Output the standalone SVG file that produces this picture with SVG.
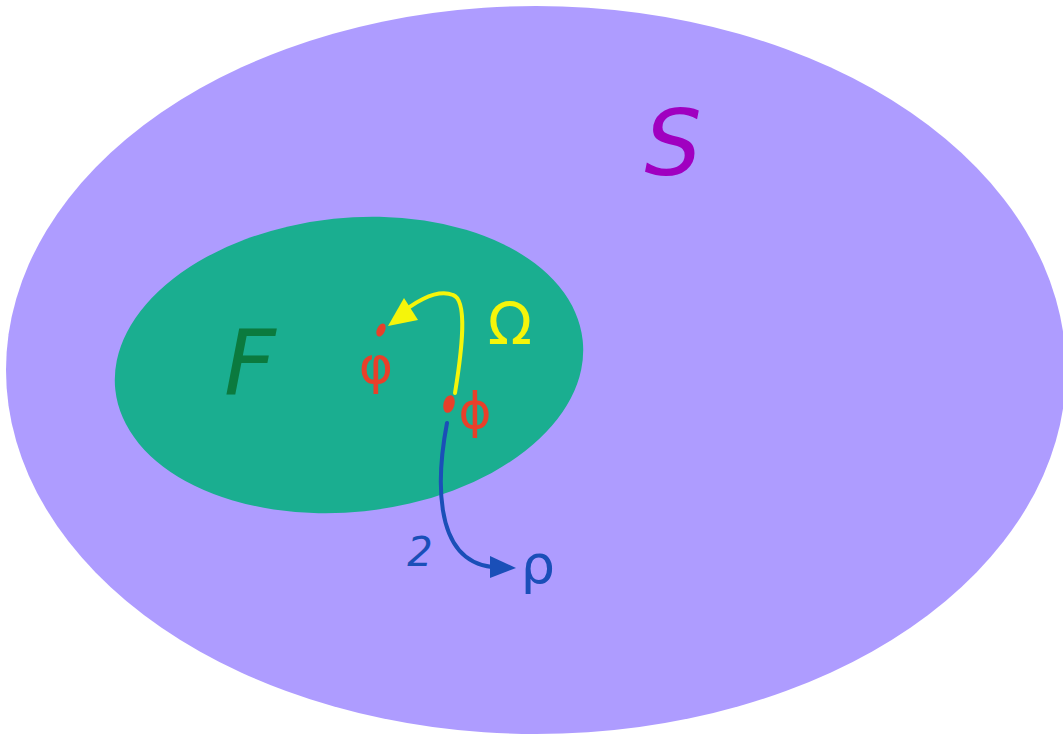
<svg xmlns="http://www.w3.org/2000/svg" width="1063" height="736" viewBox="0 0 1063 736">
<style>
.lbl{font-family:"DejaVu Sans","Liberation Sans",sans-serif;text-anchor:middle}
.conn{fill:none;stroke-width:4;stroke-linecap:round}
</style>
<rect width="1063" height="736" fill="#ffffff"/>
<g id="S">
<ellipse cx="536" cy="370" rx="530" ry="364" fill="#ae9cff"/>
<text class="lbl" x="673" y="175" font-size="90" fill="#a000c0" font-style="italic">S</text>
</g>
<g id="F">
<ellipse cx="349" cy="365" rx="235" ry="147" transform="rotate(-6 349 365)" fill="#1aae90"/>
<text class="lbl" x="250" y="395" font-size="90" fill="#0b7a3e" font-style="italic">F</text>
</g>
<g id="phi1">
<ellipse cx="381" cy="330" rx="4" ry="7" transform="rotate(25 381 330)" fill="#e8402a"/>
<text class="lbl" x="376" y="383" font-size="52" fill="#e8402a">φ</text>
</g>
<g id="phi2">
<ellipse cx="449" cy="404" rx="5.5" ry="9" transform="rotate(15 449 404)" fill="#e8402a"/>
<text class="lbl" x="475" y="428" font-size="50" fill="#e8402a">ϕ</text>
</g>
<g id="rho">
<text class="lbl" x="538" y="583" font-size="54" fill="#1a4fb8">ρ</text>
</g>
<g id="connectors">
<path class="conn" d="M455,393 C462,350 468,300 453,295 C435,288 410,305 396,318" stroke="#f5f50a"/>
<path d="M404,298 L388,326 L418,320 z" fill="#f5f50a"/>
<text class="lbl" x="510" y="344" font-size="58" fill="#f5f50a">Ω</text>
<path class="conn" d="M447,423 C438,470 430,560 492,567" stroke="#1a4fb8" stroke-width="3.5"/>
<path d="M490,556 L516,568 L490,578 z" fill="#1a4fb8"/>
<text class="lbl" x="420" y="566" font-size="40" fill="#1a4fb8" font-style="italic">2</text>
</g>
</svg>
